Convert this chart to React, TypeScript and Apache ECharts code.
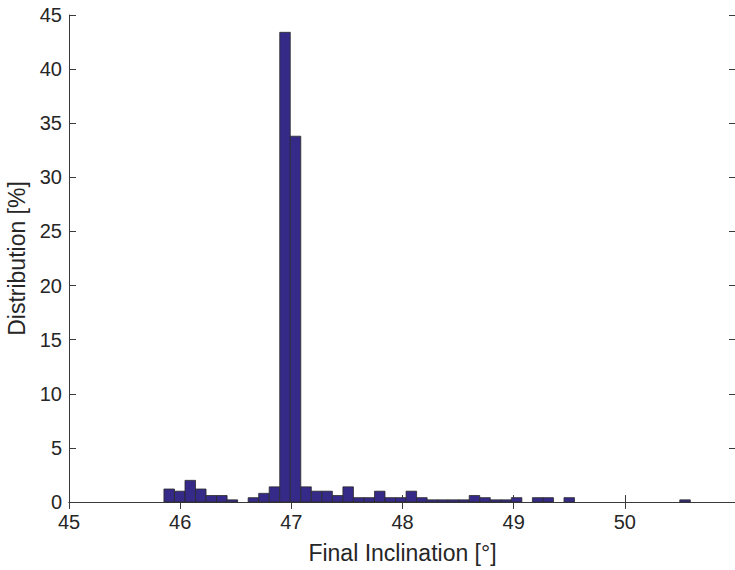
import React, { useEffect, useRef } from "react";
import * as echarts from "echarts";

// Histogram: 50 bins of equal width starting at binStart
const binStart = 45.854;
const binWidth = 0.0947;
const distribution = [
  1.2, 1.0, 2.0, 1.2, 0.6, 0.6, 0.2, 0, 0.4, 0.8,
  1.4, 43.4, 33.8, 1.4, 1.0, 1.0, 0.6, 1.4, 0.4, 0.4,
  1.0, 0.4, 0.4, 1.0, 0.4, 0.2, 0.2, 0.2, 0.2, 0.6,
  0.4, 0.2, 0.2, 0.4, 0, 0.4, 0.4, 0, 0.4, 0,
  0, 0, 0, 0, 0, 0, 0, 0, 0, 0.2,
];
const xTicks = [45, 46, 47, 48, 49, 50];
const yTicks = [0, 5, 10, 15, 20, 25, 30, 35, 40, 45];

const axisColor = "#3a3a3a";
const textColor = "#262626";
const font = "Liberation Sans, Arial, sans-serif";

export default function App() {
  const ref = useRef<HTMLDivElement>(null);
  useEffect(() => {
    if (!ref.current) return;
    const chart = echarts.init(ref.current, undefined, { renderer: "svg" });
    const data = distribution
      .map((v, i) => [binStart + i * binWidth, binStart + (i + 1) * binWidth, v])
      .filter((d) => d[2] > 0);
    const commonX = {
      type: "value" as const,
      min: xTicks[0],
      max: 51,
      interval: 1,
      splitLine: { show: false },
      axisLine: { show: true, lineStyle: { color: axisColor, width: 1 } },
      axisTick: { show: true, inside: true, length: 7, lineStyle: { color: axisColor } },
    };
    const commonY = {
      type: "value" as const,
      min: yTicks[0],
      max: yTicks[yTicks.length - 1],
      interval: 5,
      splitLine: { show: false },
      axisLine: { show: true, lineStyle: { color: axisColor, width: 1 } },
      axisTick: { show: true, inside: true, length: 7, lineStyle: { color: axisColor } },
    };
    chart.setOption({
      animation: false,
      backgroundColor: "#ffffff",
      grid: { left: 69, top: 15, width: 667, height: 487, outerBoundsMode: "none", containLabel: false },
      xAxis: [
        {
          ...commonX,
          position: "bottom",
          axisLabel: {
            color: textColor,
            fontSize: 20,
            fontFamily: font,
            margin: 10,
            formatter: (v: number) => (v <= 50 ? String(v) : ""),
          },
          name: "Final Inclination [°]",
          nameLocation: "middle",
          nameGap: 39,
          nameTextStyle: { color: textColor, fontSize: 23, fontFamily: font },
        },
        { ...commonX, position: "top", axisLabel: { show: false } },
      ],
      yAxis: [
        {
          ...commonY,
          position: "left",
          axisLabel: { color: textColor, fontSize: 20, fontFamily: font, margin: 7 },
          name: "Distribution [%]",
          nameLocation: "middle",
          nameGap: 35,
          nameTextStyle: { color: textColor, fontSize: 23, fontFamily: font },
        },
        { ...commonY, position: "right", axisLabel: { show: false } },
      ],
      series: [
        {
          type: "custom",
          xAxisIndex: 0,
          yAxisIndex: 0,
          data,
          encode: { x: [0, 1], y: 2 },
          renderItem: (_params: any, api: any) => {
            const p0 = api.coord([api.value(0), api.value(2)]);
            const p1 = api.coord([api.value(1), 0]);
            return {
              type: "rect",
              shape: { x: p0[0], y: p0[1], width: p1[0] - p0[0], height: p1[1] - p0[1] },
              style: { fill: "#352a87", stroke: "#2b2b2b", lineWidth: 0.8 },
            };
          },
        },
      ],
    });
    return () => chart.dispose();
  }, []);
  return (
    <div
      ref={ref}
      style={{ position: "fixed", left: 0, top: 0, width: 735, height: 570, background: "#fff" }}
    />
  );
}
